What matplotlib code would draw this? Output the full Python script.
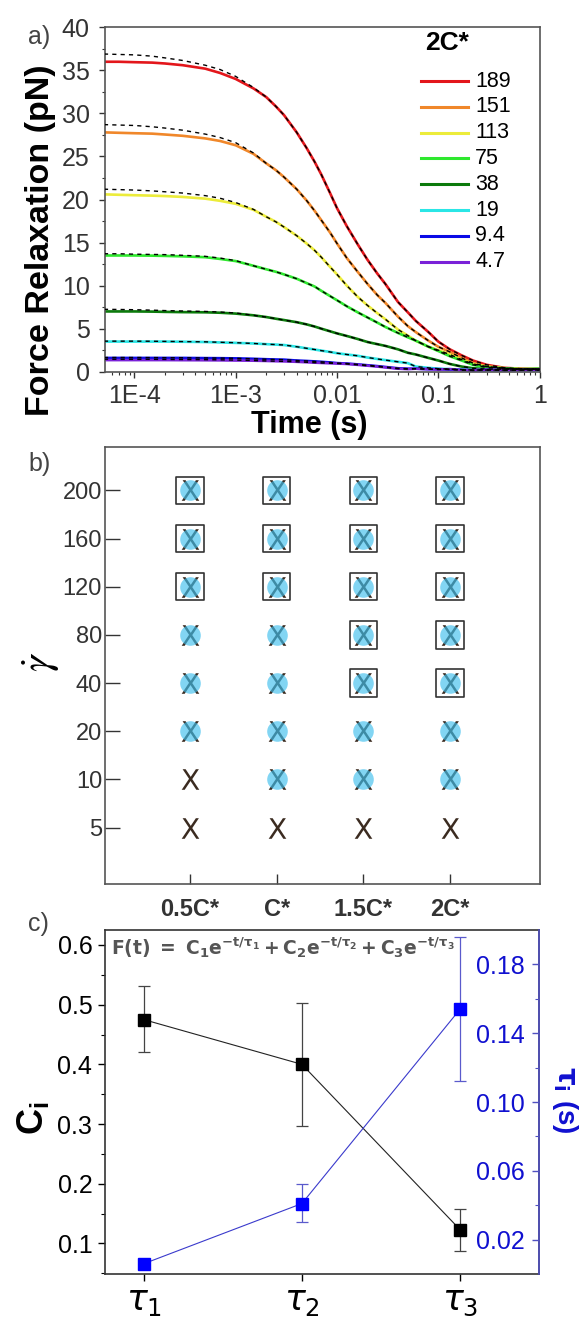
import matplotlib.pyplot as plt
from matplotlib.ticker import FixedLocator, LogLocator, MultipleLocator, NullFormatter

plt.rcParams["font.family"] = ["Liberation Sans", "DejaVu Sans"]

# ---- panel a: force relaxation curves (2C*) ----
TIME_S = [5e-5, 7e-5, 1e-4, 1.5e-4, 2e-4, 3e-4, 5e-4, 7e-4, 1e-3, 1.5e-3,
          2e-3, 2.5e-3, 3e-3, 4e-3, 5e-3, 6e-3, 7e-3, 8.5e-3, 0.01, 0.0125,
          0.016, 0.02, 0.025, 0.03, 0.04, 0.05, 0.06, 0.08, 0.1, 0.13,
          0.17, 0.22, 0.3, 0.45, 0.65, 1.0]

RATE_LABELS = ["189", "151", "113", "75", "38", "19", "9.4", "4.7"]
RATE_COLORS = ["#e3161b", "#f0872a", "#ecec3a", "#2ee82e", "#0b7a0b", "#2ae6e6", "#0a0ae6", "#7a22d8"]

FORCE_189 = [36.0, 36.0, 35.95, 35.9, 35.8, 35.6, 35.2, 34.7, 34.0, 32.9,
             31.9, 30.8, 29.8, 27.8, 26.0, 24.4, 22.9, 20.8, 19.0, 16.9,
             14.8, 13.0, 11.4, 10.2, 8.1, 6.9, 5.9, 4.6, 3.5, 2.6,
             1.9, 1.3, 0.8, 0.45, 0.35, 0.3]
FORCE_151 = [27.8, 27.75, 27.7, 27.65, 27.55, 27.4, 27.1, 26.8, 26.3, 25.3,
             24.2, 23.4, 22.6, 21.2, 19.9, 18.7, 17.6, 16.2, 14.9, 13.2,
             11.6, 10.2, 8.9, 8.0, 6.4, 5.3, 4.6, 3.6, 2.9, 2.3,
             1.6, 1.0, 0.6, 0.4, 0.3, 0.3]
FORCE_113 = [20.6, 20.55, 20.5, 20.45, 20.4, 20.3, 20.1, 19.85, 19.5, 18.8,
             18.0, 17.4, 16.8, 15.8, 14.9, 14.1, 13.3, 12.2, 11.3, 10.0,
             8.7, 7.7, 6.8, 6.1, 4.9, 4.2, 3.6, 2.9, 2.5, 2.0,
             1.4, 0.9, 0.6, 0.4, 0.3, 0.3]
FORCE_75 = [13.5, 13.5, 13.5, 13.48, 13.45, 13.4, 13.3, 13.1, 12.85, 12.3,
            11.9, 11.6, 11.3, 10.8, 10.3, 9.9, 9.4, 8.8, 8.3, 7.6,
            6.9, 6.3, 5.7, 5.2, 4.5, 4.0, 3.6, 2.9, 2.4, 1.8,
            1.3, 0.8, 0.5, 0.4, 0.3, 0.35]
FORCE_38 = [7.0, 7.0, 7.0, 6.98, 6.95, 6.92, 6.9, 6.85, 6.75, 6.55,
            6.35, 6.15, 6.0, 5.75, 5.5, 5.25, 5.0, 4.7, 4.45, 4.15,
            3.8, 3.45, 3.2, 3.0, 2.6, 2.2, 2.0, 1.6, 1.3, 0.9,
            0.6, 0.4, 0.3, 0.3, 0.25, 0.3]
FORCE_19 = [3.5, 3.5, 3.5, 3.5, 3.5, 3.48, 3.45, 3.4, 3.35, 3.28,
            3.2, 3.15, 3.1, 2.9, 2.72, 2.58, 2.45, 2.3, 2.15, 2.0,
            1.85, 1.65, 1.48, 1.35, 1.15, 1.0, 0.6, 0.45, 0.35, 0.3,
            0.25, 0.2, 0.2, 0.2, 0.2, 0.2]
FORCE_9_4 = [1.6, 1.6, 1.6, 1.6, 1.6, 1.6, 1.58, 1.57, 1.55, 1.5,
             1.45, 1.42, 1.4, 1.3, 1.25, 1.2, 1.15, 1.08, 1.0, 0.95,
             0.85, 0.75, 0.65, 0.55, 0.4, 0.35, 0.35, 0.3, 0.3, 0.25,
             0.2, 0.15, 0.2, 0.15, 0.2, 0.2]
FORCE_4_7 = [1.35, 1.35, 1.35, 1.35, 1.35, 1.34, 1.33, 1.32, 1.3, 1.28,
             1.25, 1.22, 1.2, 1.15, 1.1, 1.05, 1.02, 0.98, 0.95, 0.9,
             0.8, 0.7, 0.6, 0.5, 0.35, 0.3, 0.35, 0.3, 0.25, 0.3,
             0.2, 0.2, 0.25, 0.2, 0.2, 0.25]

# fitted curves sit above the data at short times, then follow it
FIT_HEAD_189 = [36.9, 36.85, 36.8, 36.65, 36.45, 36.15, 35.6, 35.1, 34.3, 33.0]
FIT_HEAD_151 = [28.7, 28.65, 28.6, 28.45, 28.3, 28.05, 27.6, 27.2, 26.6, 25.4]
FIT_HEAD_113 = [21.2, 21.15, 21.1, 21.0, 20.9, 20.75, 20.45, 20.15, 19.65, 18.85]
FIT_HEAD_75 = [13.7, 13.7, 13.65, 13.62, 13.6, 13.52, 13.4, 13.2, 12.9, 12.3]
FIT_HEAD_38 = [7.25, 7.23, 7.2, 7.15, 7.1, 7.05, 7.0, 6.93, 6.82, 6.55]
FIT_HEAD_19 = [3.55, 3.55, 3.55, 3.54, 3.52, 3.5, 3.47, 3.42, 3.37, 3.28]
FIT_HEAD_9_4 = [1.65, 1.65, 1.65, 1.64, 1.63, 1.62, 1.6, 1.58, 1.56, 1.5]
FIT_HEAD_4_7 = [1.45, 1.45, 1.45, 1.44, 1.43, 1.42, 1.4, 1.38, 1.35, 1.3]

# ---- panel b: state map ----
CONC_LABELS = ["0.5C*", "C*", "1.5C*", "2C*"]
SHEAR_RATES = [5, 10, 20, 40, 80, 120, 160, 200]
CIRCLE_FROM_RATE = [20, 10, 10, 10]    # blue circle present at rates >= value
SQUARE_FROM_RATE = [120, 120, 40, 40]  # open square present at rates >= value

# ---- panel c: fit parameters ----
TAU_LABELS = [r"$\tau_1$", r"$\tau_2$", r"$\tau_3$"]
C_VALUES = [0.475, 0.400, 0.123]
C_ERR_LOW = [0.055, 0.103, 0.036]
C_ERR_HIGH = [0.057, 0.103, 0.035]
TAU_VALUES = [0.006, 0.041, 0.154]
TAU_ERR_LOW = [0.0, 0.0105, 0.042]
TAU_ERR_HIGH = [0.0, 0.0115, 0.042]

GRAY = "#555555"

fig = plt.figure(figsize=(5.8, 13.2), dpi=100)

# ================= panel a =================
ax_a = fig.add_axes([0.1807, 0.7184, 0.7496, 0.2609])
curves = [
    (FORCE_189, FIT_HEAD_189), (FORCE_151, FIT_HEAD_151), (FORCE_113, FIT_HEAD_113),
    (FORCE_75, FIT_HEAD_75), (FORCE_38, FIT_HEAD_38), (FORCE_19, FIT_HEAD_19),
    (FORCE_9_4, FIT_HEAD_9_4), (FORCE_4_7, FIT_HEAD_4_7),
]
for (force, head), color in zip(curves, RATE_COLORS):
    ax_a.plot(TIME_S, force, color=color, lw=1.9, zorder=2)
for force, head in curves:
    fit = head + force[len(head):]
    ax_a.plot(TIME_S, fit, color="black", lw=1.0, ls=(0, (3, 3)), zorder=3)

ax_a.set_xscale("log")
ax_a.set_xlim(5.1e-5, 1.0)
ax_a.set_ylim(0, 40)
ax_a.xaxis.set_major_locator(FixedLocator([1e-4, 1e-3, 1e-2, 1e-1, 1]))
ax_a.set_xticklabels(["1E-4", "1E-3", "0.01", "0.1", "1"])
ax_a.xaxis.set_minor_locator(LogLocator(base=10, subs=range(2, 10)))
ax_a.xaxis.set_minor_formatter(NullFormatter())
ax_a.yaxis.set_major_locator(MultipleLocator(5))
ax_a.yaxis.set_minor_locator(MultipleLocator(2.5))
ax_a.tick_params(which="major", direction="out", length=4, width=1, labelsize=18, colors="#333333")
ax_a.tick_params(which="minor", direction="out", length=2.5, width=0.8, colors="#333333")
ax_a.tick_params(axis="y", pad=7)
ax_a.tick_params(axis="x", pad=5)
for sp in ax_a.spines.values():
    sp.set_color(GRAY)
    sp.set_linewidth(1.2)

# legend drawn by hand to match the layout
ax_a.text(0.737, 0.954, "2C*", transform=ax_a.transAxes, fontsize=19, fontweight="bold",
          ha="left", va="center")
for i, (label, color) in enumerate(zip(RATE_LABELS, RATE_COLORS)):
    y = 0.844 - i * 0.0749
    ax_a.plot([0.727, 0.835], [y, y], transform=ax_a.transAxes, color=color, lw=2.2)
    ax_a.text(0.852, y, label, transform=ax_a.transAxes, fontsize=15.5, ha="left", va="center")

fig.text(41 / 580, 1 - 240 / 1320, "Force Relaxation (pN)", rotation=90, fontsize=24.5,
         fontweight="bold", ha="center", va="center")
fig.text(309 / 580, 1 - 425 / 1320, "Time (s)", fontsize=22, fontweight="bold",
         ha="center", va="center")
fig.text(28 / 580, 1 - 37 / 1320, "a)", fontsize=18, color="#444444", ha="left", va="center")

# ================= panel b =================
ax_b = fig.add_axes([0.1807, 0.3303, 0.7496, 0.3311])
for ci, conc in enumerate(CONC_LABELS):
    x = ci + 1
    for ri, rate in enumerate(SHEAR_RATES):
        y = ri + 1
        ax_b.scatter([x], [y], marker=r"$\mathsf{X}$", s=220, color="#3b2b20", lw=0, zorder=2)
        if rate >= CIRCLE_FROM_RATE[ci]:
            ax_b.scatter([x], [y], marker="o", s=220, color="#3fbfee", alpha=0.65, lw=0, zorder=3)
        if rate >= SQUARE_FROM_RATE[ci]:
            ax_b.scatter([x], [y], marker="s", s=390, facecolor="none", edgecolor="#333333",
                         lw=1.2, zorder=4)

ax_b.set_xlim(0.02, 5.03)
ax_b.set_ylim(-0.17, 8.9)
ax_b.set_xticks(range(1, len(CONC_LABELS) + 1))
ax_b.set_xticklabels(CONC_LABELS, fontweight="bold")
ax_b.set_yticks(range(1, len(SHEAR_RATES) + 1))
ax_b.set_yticklabels([str(r) for r in SHEAR_RATES])
ax_b.tick_params(axis="y", direction="in", length=11, width=1, labelsize=17, pad=2,
                 colors="#333333")
ax_b.tick_params(axis="x", direction="in", length=7, width=1, labelsize=17, pad=10,
                 colors="#333333")
for sp in ax_b.spines.values():
    sp.set_color(GRAY)
    sp.set_linewidth(1.2)
fig.text(41 / 580, 1 - 662 / 1320, r"$\dot{\gamma}$", rotation=90, fontsize=30,
         math_fontfamily="stix", ha="center", va="center")
fig.text(28 / 580, 1 - 464 / 1320, "b)", fontsize=18, color="#444444", ha="left", va="center")

# ================= panel c =================
ax_c = fig.add_axes([0.1807, 0.0348, 0.7478, 0.2606])
xs = range(1, len(TAU_LABELS) + 1)
ax_c.plot(xs, C_VALUES, color="#222222", lw=0.8, zorder=2)
ax_c.errorbar(xs, C_VALUES, yerr=[C_ERR_LOW, C_ERR_HIGH], fmt="none", ecolor="#444444",
              elinewidth=0.9, capsize=4, capthick=0.9, zorder=2)
ax_c.plot(xs, C_VALUES, ls="none", marker="s", ms=8, color="black", zorder=3)
ax_c.set_xlim(0.754, 3.496)
ax_c.set_ylim(0.0486, 0.625)
ax_c.set_xticks(list(xs))
ax_c.set_xticklabels(TAU_LABELS)
ax_c.yaxis.set_major_locator(MultipleLocator(0.1))
ax_c.yaxis.set_minor_locator(MultipleLocator(0.05))
ax_c.tick_params(axis="y", which="major", direction="out", length=5, width=1, labelsize=18, pad=4)
ax_c.tick_params(axis="y", which="minor", direction="out", length=3, width=0.8)
ax_c.tick_params(axis="x", direction="out", length=5, width=1, labelsize=25, pad=3)
for sp in ax_c.spines.values():
    sp.set_color("#333333")
    sp.set_linewidth(1.2)
fig.text(33 / 580, 1 - 1118 / 1320, r"C$_\mathregular{i}$", rotation=90, fontsize=26,
         fontweight="bold", ha="center", va="center")

ax_t = ax_c.twinx()
ax_t.plot(xs, TAU_VALUES, color="#3a3acc", lw=0.8, zorder=2)
ax_t.errorbar(xs, TAU_VALUES, yerr=[TAU_ERR_LOW, TAU_ERR_HIGH], fmt="none", ecolor="#5a5acc",
              elinewidth=0.9, capsize=4, capthick=0.9, zorder=2)
ax_t.plot(xs, TAU_VALUES, ls="none", marker="s", ms=8, color="#0000ff", zorder=3)
ax_t.set_ylim(0, 0.2)
ax_t.yaxis.set_major_locator(FixedLocator([0.02, 0.06, 0.10, 0.14, 0.18]))
ax_t.set_yticklabels(["0.02", "0.06", "0.10", "0.14", "0.18"])
ax_t.yaxis.set_minor_locator(FixedLocator([0.04, 0.08, 0.12, 0.16]))
ax_t.tick_params(axis="y", which="major", direction="in", length=5, width=1, labelsize=18,
                 colors="#5050c0", labelcolor="#1010d0", pad=-10)
ax_t.tick_params(axis="y", which="minor", direction="in", length=3, width=0.8, colors="#5050c0")
for lab in ax_t.get_yticklabels():
    lab.set_horizontalalignment("right")
for name, sp in ax_t.spines.items():
    sp.set_visible(name == "right")
ax_t.spines["right"].set_color("#5050c0")
ax_t.spines["right"].set_linewidth(1.2)
fig.text(565 / 580, 1 - 1100 / 1320, r"$\mathbf{\tau_i}$ (s)", rotation=270, fontsize=20,
         fontweight="bold", color="#1010d0", ha="center", va="center")

ax_c.text(0.014, 0.985,
          r"$\mathbf{F(t)\ =\ C_1e^{-t/\tau_1}+C_2e^{-t/\tau_2}+C_3e^{-t/\tau_3}}$",
          transform=ax_c.transAxes, fontsize=13.5, color="#555555", ha="left", va="top")
fig.text(28 / 580, 1 - 924 / 1320, "c)", fontsize=18, color="#444444", ha="left", va="center")

fig.savefig("out.png", dpi=100)
